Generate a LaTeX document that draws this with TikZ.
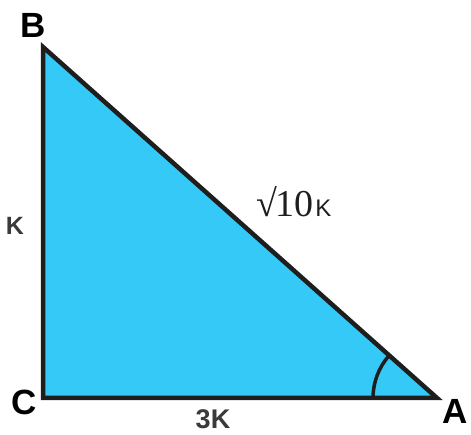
\documentclass[tikz,border=0pt]{standalone}
\usepackage{fontspec}
\setmainfont{Liberation Sans}
\newfontfamily\serifnum{Liberation Serif}
\newfontfamily\plainsans{Liberation Sans}
\usetikzlibrary{calc}
\definecolor{trifill}{HTML}{35C9F7}
\definecolor{edge}{HTML}{1E1E1E}
\definecolor{lblgray}{HTML}{3A3A3A}

\begin{document}
\begin{tikzpicture}[
          x=1pt, y=1pt,
          vtx/.style = {font=\fontsize{35}{35}\selectfont\bfseries, text=black, inner sep=0pt},
          side/.style = {font=\fontsize{25}{25}\selectfont\bfseries, text=lblgray, inner sep=0pt},
          tri/.style = {draw=edge, line width=4.5pt, fill=trifill, line join=miter},
        ]
        \useasboundingbox (0,0) rectangle (471,435);
        \coordinate (B) at (43,388);
        \coordinate (C) at (43,37);
        \coordinate (A) at (437,37);

        \filldraw[tri] (B) -- (C) -- (A) -- cycle;
        % angle mark at A
        \draw[edge, line width=3.5pt] ($(A)+(-64,0)$) arc[start angle=180, end angle=138.3, radius=64];

        \node[vtx] (lB) at (33,410) {B};
        \node[vtx] (lC) at (24,33) {C};
        \node[vtx] (lA) at (455,24) {A};
        \node[side] (lK) at (15,209) {K};
        \node[side, font=\fontsize{27}{27}\selectfont\bfseries] (l3K) at (213,16) {3K};
        \node[inner sep=0pt, text=edge] (lhyp) at (294,233)
          {\serifnum\fontsize{38}{38}\selectfont √\kern-2pt10\kern2pt{\plainsans\fontsize{24}{24}\selectfont K}};
\end{tikzpicture}
\end{document}
